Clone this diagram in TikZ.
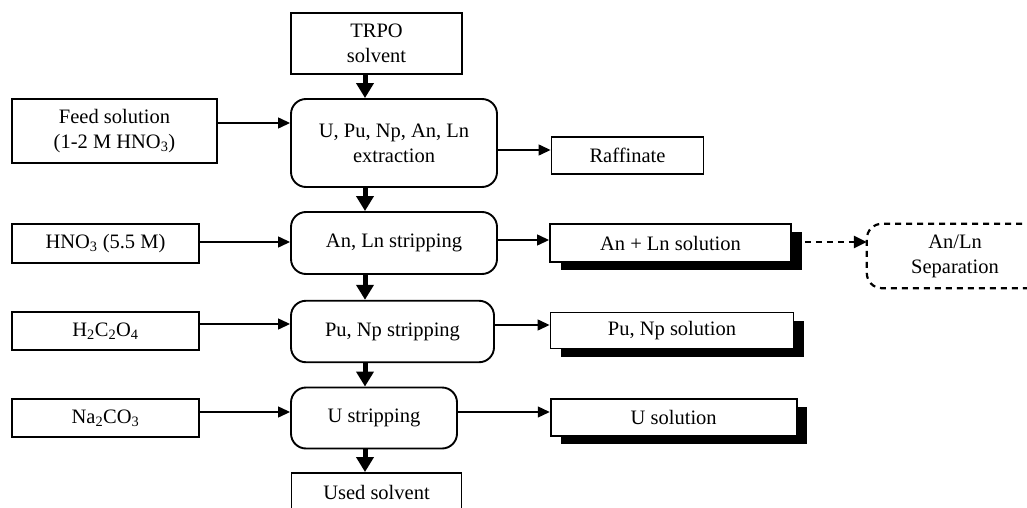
\documentclass[tikz,border=0pt]{standalone}
\usepackage{fontspec}
\setmainfont{Liberation Serif}
\usetikzlibrary{arrows.meta,shadows}
\begin{document}
\begin{tikzpicture}[x=1pt,y=-1pt,
  every node/.style={font=\fontsize{20.5}{25}\selectfont, align=center, inner sep=0pt},
  plainbox/.style={draw, line width=1.9pt, fill=white},
  procbox/.style={draw, line width=1.9pt, rounded corners=15pt, fill=white},
  solbox/.style={draw, line width=1.9pt, fill=white,
    general shadow={fill=black, shadow xshift=10.5pt, shadow yshift=-8pt}},
  sepline/.style={line width=2.2pt, rounded corners=15pt, dash pattern=on 6pt off 5pt},
  arr/.style={line width=1.3pt, -{Triangle[length=12pt,width=11pt]}},
  bigarr/.style={line width=5pt, -{Triangle[length=15pt,width=17pt]}},
  dasharr/.style={line width=2.4pt, dash pattern=on 6pt off 5pt, -{Triangle[length=13pt,width=12pt]}}]
\useasboundingbox (0,0) rectangle (1027,508);
\clip (0,0) rectangle (1027,508);
% nodes
\node[plainbox, minimum width=171pt, minimum height=61pt] (trpo) at (376.5,43.5) {TRPO\\solvent};
\node[plainbox, minimum width=205pt, minimum height=64pt] (feed) at (114.5,131) {Feed solution\\(1-2 M HNO\textsubscript{3})};
\node[procbox, minimum width=206pt, minimum height=88pt] (extr) at (394,143) {U, Pu, Np, An, Ln\\extraction};
\node[plainbox, minimum width=152pt, minimum height=37.6pt] (raff) at (627.5,155.5) {Raffinate};
\node[plainbox, minimum width=187pt, minimum height=38.5pt] (hno) at (105.5,243.5) {HNO\textsubscript{3} (5.5 M)};
\node[procbox, minimum width=206pt, minimum height=62pt] (anln) at (394,243) {An, Ln stripping};
\node[solbox, minimum width=241pt, minimum height=38pt] (anlnsol) at (670.5,243) {An + Ln solution};
\node[minimum width=210pt, minimum height=64pt] (sepframe) at (972,256) {};
\draw[sepline] (sepframe.north east) -- (sepframe.north west) -- (sepframe.south west) -- (sepframe.south east);
\node (sep) at (955,256) {An/Ln\\Separation};
\node[plainbox, minimum width=187pt, minimum height=38.5pt] (oxa) at (105.5,331) {H\textsubscript{2}C\textsubscript{2}O\textsubscript{4}};
\node[procbox, minimum width=203pt, minimum height=61.5pt] (punp) at (392.5,331.5) {Pu, Np stripping};
\node[solbox, minimum width=243pt, minimum height=36pt] (punpsol) at (672,330.5) {Pu, Np solution};
\node[plainbox, minimum width=187pt, minimum height=38.5pt] (carb) at (105.5,418) {Na\textsubscript{2}CO\textsubscript{3}};
\node[procbox, minimum width=166pt, minimum height=61pt] (ustrip) at (374,418) {U stripping};
\node[solbox, minimum width=246pt, minimum height=37pt] (usol) at (673.7,417.7) {U solution};
\node[plainbox, minimum width=170pt, minimum height=38pt] (used) at (376.5,492) {Used solvent};
% reference coordinates
\coordinate (vx) at (365,0);
\coordinate (y1) at (0,123);
\coordinate (y2) at (0,150);
\coordinate (y3) at (0,242);
\coordinate (y4) at (0,240);
\coordinate (y5) at (0,242);
\coordinate (y6) at (0,324);
\coordinate (y7) at (0,325);
\coordinate (y8) at (0,412);
% vertical flow
\draw[bigarr] (trpo.south -| vx) -- (extr.north -| vx);
\draw[bigarr] (extr.south -| vx) -- (anln.north -| vx);
\draw[bigarr] (anln.south -| vx) -- (punp.north -| vx);
\draw[bigarr] (punp.south -| vx) -- (ustrip.north -| vx);
\draw[bigarr] (ustrip.south -| vx) -- (used.north -| vx);
% horizontal connectors
\draw[arr] (feed.east |- y1) -- (extr.west |- y1);
\draw[arr] (extr.east |- y2) -- (raff.west |- y2);
\draw[arr] (hno.east |- y3) -- (anln.west |- y3);
\draw[arr] (anln.east |- y4) -- (anlnsol.west |- y4);
\draw[dasharr] ([xshift=13pt]anlnsol.east |- y5) -- (sepframe.west |- y5);
\draw[arr] (oxa.east |- y6) -- (punp.west |- y6);
\draw[arr] (punp.east |- y7) -- (punpsol.west |- y7);
\draw[arr] (carb.east |- y8) -- (ustrip.west |- y8);
\draw[arr] (ustrip.east |- y8) -- (usol.west |- y8);
\end{tikzpicture}
\end{document}
